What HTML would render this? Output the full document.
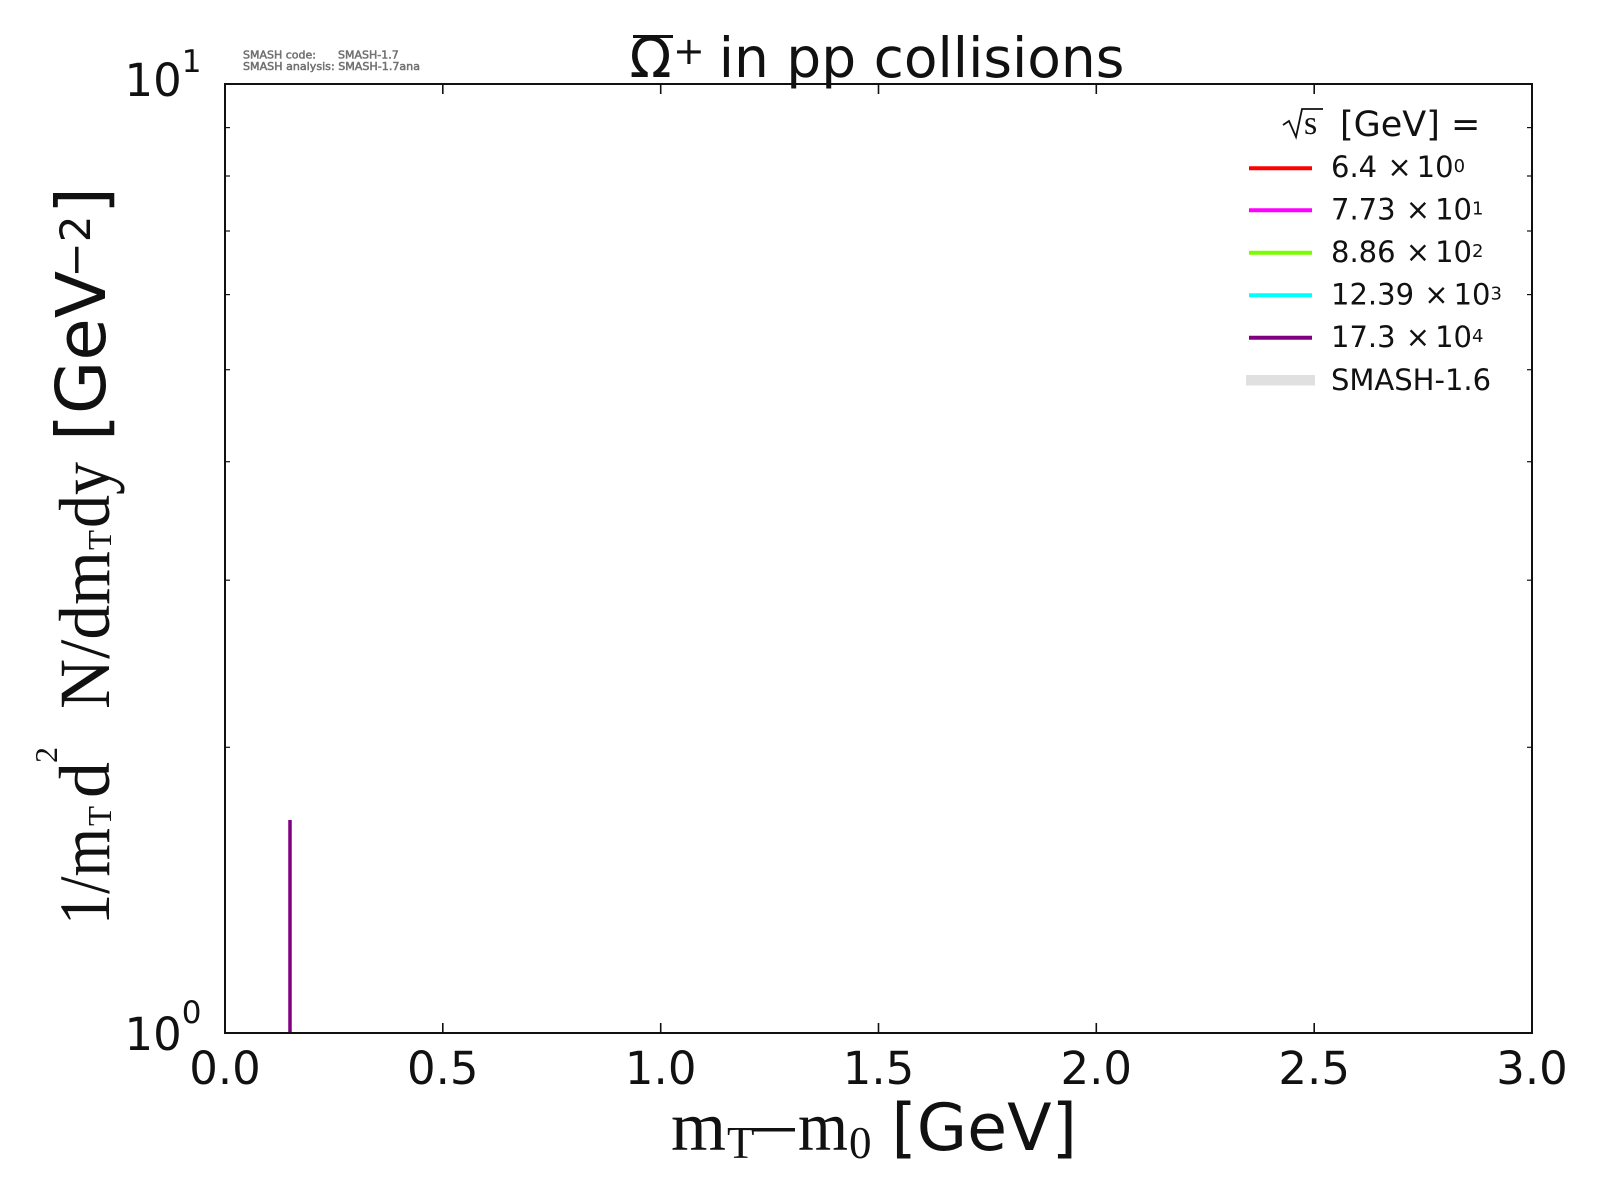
<!DOCTYPE html>
<html>
<head>
<meta charset="utf-8">
<style>
  html, body { margin: 0; padding: 0; background: #ffffff; }
  svg { display: block; }
  .dj { font-family: "DejaVu Sans", "Liberation Sans", sans-serif; fill: #111; }
  .sr { font-family: "Liberation Serif", "DejaVu Serif", serif; fill: #111; }
</style>
</head>
<body>
<svg width="1600" height="1200" viewBox="0 0 1600 1200" xmlns="http://www.w3.org/2000/svg">
  <rect x="0" y="0" width="1600" height="1200" fill="#ffffff"/>

  <!-- small SMASH info text -->
  <g stroke="#707070" stroke-width="0.5">
  <text class="dj" x="243" y="58.5" font-size="11" style="fill:#707070">SMASH code:</text>
  <text class="dj" x="338" y="58.5" font-size="11" style="fill:#707070">SMASH-1.7</text>
  <text class="dj" x="243" y="70" font-size="11" style="fill:#707070" textLength="177" lengthAdjust="spacingAndGlyphs">SMASH analysis: SMASH-1.7ana</text>
  </g>

  <!-- title -->
  <text class="dj" x="629.5" y="77" font-size="55">Ω</text>
  <rect x="633" y="35" width="40" height="3" fill="#111"/>
  <text class="dj" x="673" y="64" font-size="38">+</text>
  <text class="dj" x="718.7" y="77" font-size="55">in pp collisions</text>

  <!-- data line (purple) -->
  <line x1="290" y1="820" x2="290" y2="1033" stroke="#800080" stroke-width="3.5"/>

  <!-- axes frame -->
  <rect x="225" y="84" width="1307" height="949" fill="none" stroke="#111" stroke-width="2"/>

  <!-- x major ticks bottom & top -->
  <g stroke="#111" stroke-width="1.6">
    <line x1="442.8" y1="1033" x2="442.8" y2="1023"/>
    <line x1="660.7" y1="1033" x2="660.7" y2="1023"/>
    <line x1="878.5" y1="1033" x2="878.5" y2="1023"/>
    <line x1="1096.3" y1="1033" x2="1096.3" y2="1023"/>
    <line x1="1314.2" y1="1033" x2="1314.2" y2="1023"/>
    <line x1="442.8" y1="84" x2="442.8" y2="94"/>
    <line x1="660.7" y1="84" x2="660.7" y2="94"/>
    <line x1="878.5" y1="84" x2="878.5" y2="94"/>
    <line x1="1096.3" y1="84" x2="1096.3" y2="94"/>
    <line x1="1314.2" y1="84" x2="1314.2" y2="94"/>
  </g>
  <!-- y minor ticks left & right -->
  <g stroke="#111" stroke-width="1.2">
    <line x1="225" y1="747.3" x2="230" y2="747.3"/>
    <line x1="225" y1="580.2" x2="230" y2="580.2"/>
    <line x1="225" y1="461.7" x2="230" y2="461.7"/>
    <line x1="225" y1="369.7" x2="230" y2="369.7"/>
    <line x1="225" y1="294.6" x2="230" y2="294.6"/>
    <line x1="225" y1="231.0" x2="230" y2="231.0"/>
    <line x1="225" y1="176.0" x2="230" y2="176.0"/>
    <line x1="225" y1="127.6" x2="230" y2="127.6"/>
    <line x1="1532" y1="747.3" x2="1527" y2="747.3"/>
    <line x1="1532" y1="580.2" x2="1527" y2="580.2"/>
    <line x1="1532" y1="461.7" x2="1527" y2="461.7"/>
    <line x1="1532" y1="369.7" x2="1527" y2="369.7"/>
    <line x1="1532" y1="294.6" x2="1527" y2="294.6"/>
    <line x1="1532" y1="231.0" x2="1527" y2="231.0"/>
    <line x1="1532" y1="176.0" x2="1527" y2="176.0"/>
    <line x1="1532" y1="127.6" x2="1527" y2="127.6"/>
  </g>

  <!-- x tick labels -->
  <g class="dj" font-size="45" text-anchor="middle">
    <text x="225" y="1084">0.0</text>
    <text x="442.8" y="1084">0.5</text>
    <text x="660.7" y="1084">1.0</text>
    <text x="878.5" y="1084">1.5</text>
    <text x="1096.3" y="1084">2.0</text>
    <text x="1314.2" y="1084">2.5</text>
    <text x="1532" y="1084">3.0</text>
  </g>

  <!-- y tick labels -->
  <text class="dj" x="124.5" y="96" font-size="45">10</text>
  <text class="dj" x="181.7" y="72" font-size="31">1</text>
  <text class="dj" x="124.5" y="1050" font-size="45">10</text>
  <text class="dj" x="181.7" y="1023" font-size="31">0</text>

  <!-- x label -->
  <text class="sr" x="671" y="1150" font-size="70" textLength="55" lengthAdjust="spacingAndGlyphs">m</text>
  <text class="sr" x="727" y="1158" font-size="45">T</text>
  <rect x="753" y="1128" width="42" height="3.5" fill="#111"/>
  <text class="sr" x="798" y="1150" font-size="70" textLength="50" lengthAdjust="spacingAndGlyphs">m</text>
  <text class="sr" x="849" y="1158" font-size="45">0</text>
  <text class="dj" x="891.4" y="1150" font-size="65">[GeV]</text>

  <!-- y label (rotated) -->
  <g transform="rotate(-90)">
    <text class="sr" x="-925" y="109" font-size="72" textLength="97" lengthAdjust="spacingAndGlyphs">1/m</text>
    <text class="sr" x="-826" y="111" font-size="34" textLength="20" lengthAdjust="spacingAndGlyphs">T</text>
    <text class="sr" x="-798" y="109" font-size="72">d</text>
    <text class="sr" x="-763" y="57" font-size="32">2</text>
    <text class="sr" x="-709" y="109" font-size="72" textLength="158" lengthAdjust="spacingAndGlyphs">N/dm</text>
    <text class="sr" x="-550" y="111" font-size="34" textLength="20" lengthAdjust="spacingAndGlyphs">T</text>
    <text class="sr" x="-528" y="109" font-size="72" textLength="66" lengthAdjust="spacingAndGlyphs">dy</text>
    <text class="dj" x="-441" y="105" font-size="69">[GeV</text>
    <text class="dj" x="-277.5" y="90" font-size="42">−2</text>
    <text class="dj" x="-214" y="105" font-size="69">]</text>
  </g>

  <!-- legend -->
  <path d="M1283,125 L1289,121 L1296,137 L1302,109 L1323,109" fill="none" stroke="#111" stroke-width="1.8"/>
  <text class="sr" x="1304" y="134" font-size="34">s</text>
  <text class="dj" x="1340" y="136" font-size="35">[GeV] =</text>

  <line x1="1249" y1="168.3" x2="1312" y2="168.3" stroke="#ff0000" stroke-width="4"/>
  <line x1="1249" y1="210.3" x2="1312" y2="210.3" stroke="#ff00ff" stroke-width="4"/>
  <line x1="1249" y1="252.7" x2="1312" y2="252.7" stroke="#7cfc00" stroke-width="4"/>
  <line x1="1249" y1="295.3" x2="1312" y2="295.3" stroke="#00ffff" stroke-width="4"/>
  <line x1="1249" y1="337.7" x2="1312" y2="337.7" stroke="#800080" stroke-width="4"/>
  <line x1="1246" y1="380.3" x2="1315" y2="380.3" stroke="#e0e0e0" stroke-width="10.5"/>

  <g class="dj" font-size="29">
    <text x="1331" y="177">6.4 <tspan dx="1">×</tspan><tspan dx="5">10</tspan><tspan font-size="18" dy="-5">0</tspan></text>
    <text x="1331" y="219.5">7.73 <tspan dx="1">×</tspan><tspan dx="5">10</tspan><tspan font-size="18" dy="-5">1</tspan></text>
    <text x="1331" y="262">8.86 <tspan dx="1">×</tspan><tspan dx="5">10</tspan><tspan font-size="18" dy="-5">2</tspan></text>
    <text x="1331" y="304.5">12.39 <tspan dx="1">×</tspan><tspan dx="5">10</tspan><tspan font-size="18" dy="-5">3</tspan></text>
    <text x="1331" y="347">17.3 <tspan dx="1">×</tspan><tspan dx="5">10</tspan><tspan font-size="18" dy="-5">4</tspan></text>
    <text x="1331" y="390">SMASH-1.6</text>
  </g>
</svg>
</body>
</html>
